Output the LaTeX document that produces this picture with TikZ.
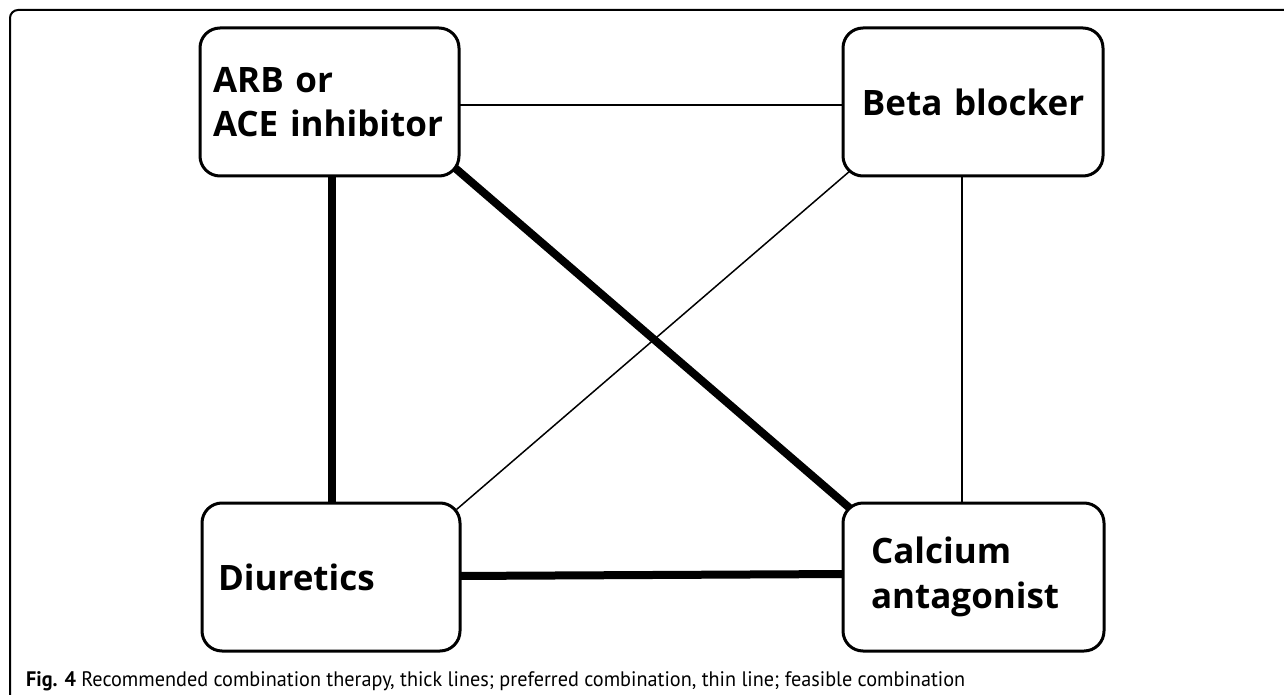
\documentclass[tikz,border=0pt]{standalone}
\usepackage{fontspec}
\setmainfont{Open Sans}
\newfontfamily\capfont{PT Sans}
\usetikzlibrary{calc,backgrounds}
\begin{document}
\begin{tikzpicture}[x=1pt,y=-1pt,
  drug/.style={draw=black, line width=3pt, rounded corners=20pt, fill=white,
    minimum height=148pt, inner ysep=0pt, font=\fontsize{35}{44.5}\selectfont\bfseries},
  thickline/.style={line width=8pt},
  thinline/.style={line width=1.5pt},
  frameline/.style={line width=2pt}]
\useasboundingbox (0,0) rectangle (1284,695);
\draw[frameline] (10,700) -- (10,18) arc[start angle=180,end angle=270,radius=8] -- (1290,10);
\node[drug, minimum width=259pt, inner xsep=13pt, text width=233pt, align=left] (arb) at (329.5,102) {ARB or\\\mbox{ACE inhibitor}};
\node[drug, minimum width=260pt, inner xsep=10pt, text width=240pt, align=center] (beta) at (973,102) {\mbox{Beta blocker}};
\node[drug, minimum width=258pt, inner xsep=16pt, text width=226pt, align=left] (diu) at (331,577) {Diuretics};
\node[drug, minimum width=261pt, inner xsep=28pt, text width=205pt, align=left] (cal) at (973.5,577) {Calcium\\antagonist};
\begin{scope}[on background layer]
  \draw[thinline] ($(arb.east)+(-5,3)$) -- ($(beta.west)+(5,3)$);
  \draw[thickline] ($(arb.south)+(2.5,-5)$) -- ($(diu.north)+(1,5)$);
  \draw[thickline] ($(arb.south east)+(-6,-10)$) -- ($(cal.north west)+(11,9)$);
  \draw[thinline] ($(beta.south west)+(9,-7)$) -- ($(diu.north east)+(-5,8)$);
  \draw[thinline] ($(beta.south)+(-11,-5)$) -- ($(cal.north)+(-11.5,5)$);
  \draw[thickline] ($(diu.east)+(-5,-1)$) -- ($(cal.west)+(5,-3)$);
\end{scope}
\node[anchor=base west, inner sep=0pt] (cap) at (26,686) {\resizebox{939pt}{\height}{\capfont\fontsize{21}{23}\selectfont\textbf{Fig. 4} Recommended combination therapy, thick lines; preferred combination, thin line; feasible combination}};
\end{tikzpicture}
\end{document}
